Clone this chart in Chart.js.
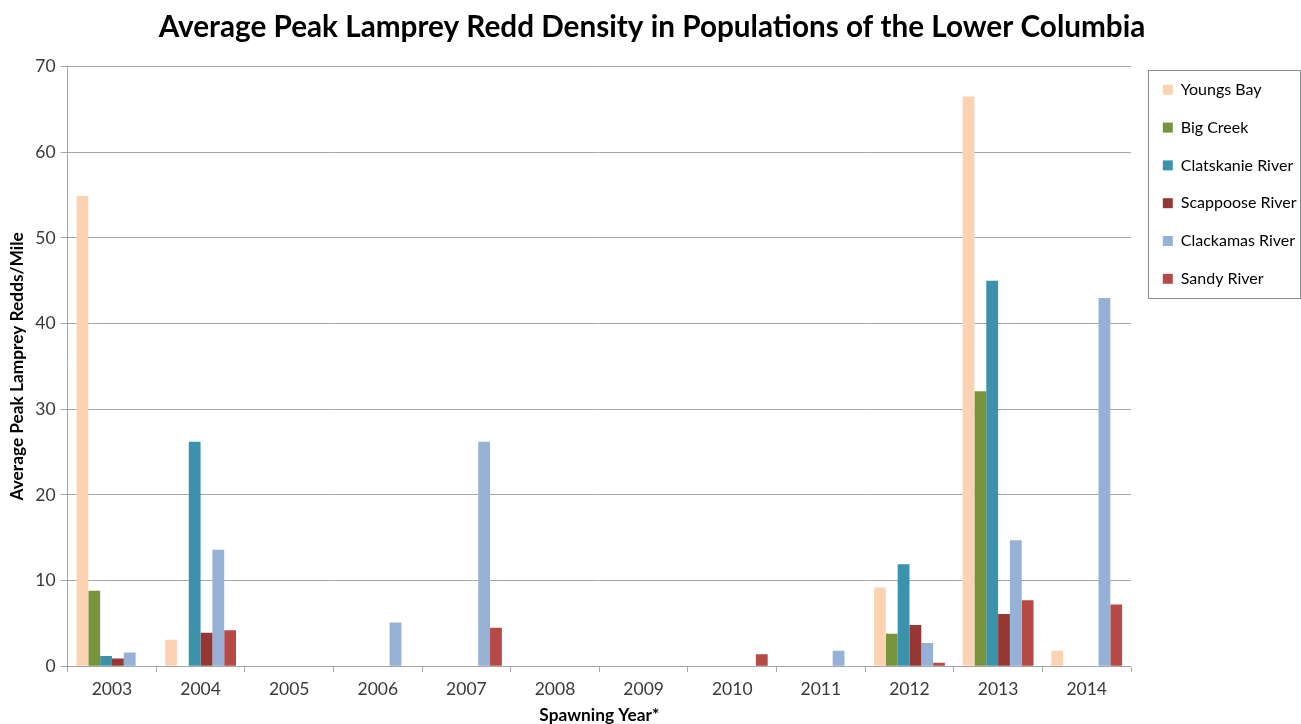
<!DOCTYPE html>
<html>
<head>
<meta charset="utf-8">
<script src="https://cdn.jsdelivr.net/npm/chart.js@4.4.1/dist/chart.umd.min.js"></script>
<style>
  html, body { margin: 0; padding: 0; background: #ffffff; }
  #wrap { width: 1301px; height: 724px; position: relative; }
</style>
</head>
<body>
<div id="wrap"><canvas id="chart"></canvas></div>
<script>
// Spawning years on the x axis
const years = ['2003', '2004', '2005', '2006', '2007', '2008', '2009', '2010', '2011', '2012', '2013', '2014'];

// Average peak redds per mile, by population (null = no survey value)
const youngsBay   = [54.9, 3.1, null, null, null, null, null, null, null, 9.2, 66.5, 1.8];
const bigCreek    = [8.8, null, null, null, null, null, null, null, null, 3.8, 32.1, null];
const clatskanie  = [1.2, 26.2, null, null, null, null, null, null, null, 11.9, 45.0, null];
const scappoose   = [0.9, 3.9, null, null, null, null, null, null, null, 4.8, 6.1, null];
const clackamas   = [1.6, 13.6, null, 5.1, 26.2, null, null, null, 1.8, 2.7, 14.7, 43.0];
const sandy       = [null, 4.2, null, null, 4.5, null, null, 1.4, null, 0.4, 7.7, 7.2];

// Y axis tick values
const yTicks = [0, 10, 20, 30, 40, 50, 60, 70];

const FONT = 'Lato, Calibri, Carlito, sans-serif';
const LEGEND_WIDTH = 160;

// Fixes the legend column width and draws a thin frame around its items
const legendFrame = {
  id: 'legendFrame',
  beforeUpdate(chart) {
    const lg = chart.legend;
    if (lg && !lg.__fixedWidth) {
      const fit = lg.fit.bind(lg);
      lg.fit = function () { fit(); this.width = LEGEND_WIDTH; };
      lg.__fixedWidth = true;
    }
  },
  afterDraw(chart) {
    const lg = chart.legend;
    if (!lg || !lg.legendHitBoxes || !lg.legendHitBoxes.length) return;
    const boxes = lg.legendHitBoxes;
    const first = boxes[0], last = boxes[boxes.length - 1];
    const x0 = Math.round(first.left - 15) + 0.5;
    const y0 = Math.round(first.top - 12) + 0.5;
    const x1 = Math.round(lg.right - 1) + 0.5;
    const y1 = Math.round(last.top + last.height + 11) + 0.5;
    const ctx = chart.ctx;
    ctx.save();
    ctx.strokeStyle = '#8c8c8c';
    ctx.lineWidth = 1;
    ctx.strokeRect(x0, y0, x1 - x0, y1 - y0);
    ctx.restore();
  }
};

new Chart(document.getElementById('chart'), {
  type: 'bar',
  data: {
    labels: years,
    datasets: [
      { label: 'Youngs Bay',       data: youngsBay,  backgroundColor: '#fbd3b2' },
      { label: 'Big Creek',        data: bigCreek,   backgroundColor: '#77933c' },
      { label: 'Clatskanie River', data: clatskanie, backgroundColor: '#3a93ab' },
      { label: 'Scappoose River',  data: scappoose,  backgroundColor: '#953735' },
      { label: 'Clackamas River',  data: clackamas,  backgroundColor: '#95b1d6' },
      { label: 'Sandy River',      data: sandy,      backgroundColor: '#b64a47' }
    ]
  },
  options: {
    responsive: true,
    maintainAspectRatio: false,
    animation: false,
    layout: { padding: { left: 3, right: 0, top: 0, bottom: 0 } },
    datasets: { bar: { categoryPercentage: 0.8, barPercentage: 1.0, borderWidth: 0 } },
    plugins: {
      title: {
        display: true,
        text: 'Average Peak Lamprey Redd Density in Populations of the Lower Columbia',
        color: '#000000',
        font: { family: FONT, size: 29.7, weight: 'bold' },
        padding: { top: 10, bottom: 21 }
      },
      legend: {
        position: 'right',
        align: 'start',
        title: { display: true, text: ' ', font: { family: FONT, size: 10, lineHeight: 1 },
                 padding: { top: 50, bottom: 0 } },
        labels: {
          color: '#000000',
          font: { family: FONT, size: 16 },
          boxWidth: 10,
          boxHeight: 10,
          padding: 21.8
        }
      },
      tooltip: { enabled: false }
    },
    scales: {
      x: {
        offset: true,
        grid: { offset: true, drawOnChartArea: false, drawTicks: true, tickLength: 6, color: '#a6a6a6' },
        border: { color: '#a6a6a6' },
        ticks: { color: '#3a3a3a', font: { family: FONT, size: 17.5, lineHeight: 1 }, padding: 8.5 },
        title: { display: true, text: 'Spawning Year*', color: '#000000',
                 font: { family: FONT, size: 17.3, weight: 'bold', lineHeight: 1 }, padding: { top: 0, bottom: 0 } }
      },
      y: {
        min: 0,
        max: 70,
        afterBuildTicks(axis) { axis.ticks = yTicks.map(v => ({ value: v })); },
        grid: { color: '#a6a6a6', drawTicks: true, tickLength: 7 },
        border: { color: '#a6a6a6' },
        ticks: { color: '#3a3a3a', font: { family: FONT, size: 17.5 }, padding: 5 },
        title: { display: true, text: 'Average Peak Lamprey Redds/Mile', color: '#000000',
                 font: { family: FONT, size: 17.3, weight: 'bold' }, padding: { top: 3.6, bottom: 3 } }
      },
      // empty right-hand scale: keeps a small gutter between the plot and the legend
      gutter: {
        type: 'linear',
        position: 'right',
        display: true,
        grid: { display: false },
        border: { display: false },
        ticks: { display: false },
        afterFit(scale) { scale.width = 10; }
      }
    }
  },
  plugins: [legendFrame]
});
</script>
</body>
</html>
